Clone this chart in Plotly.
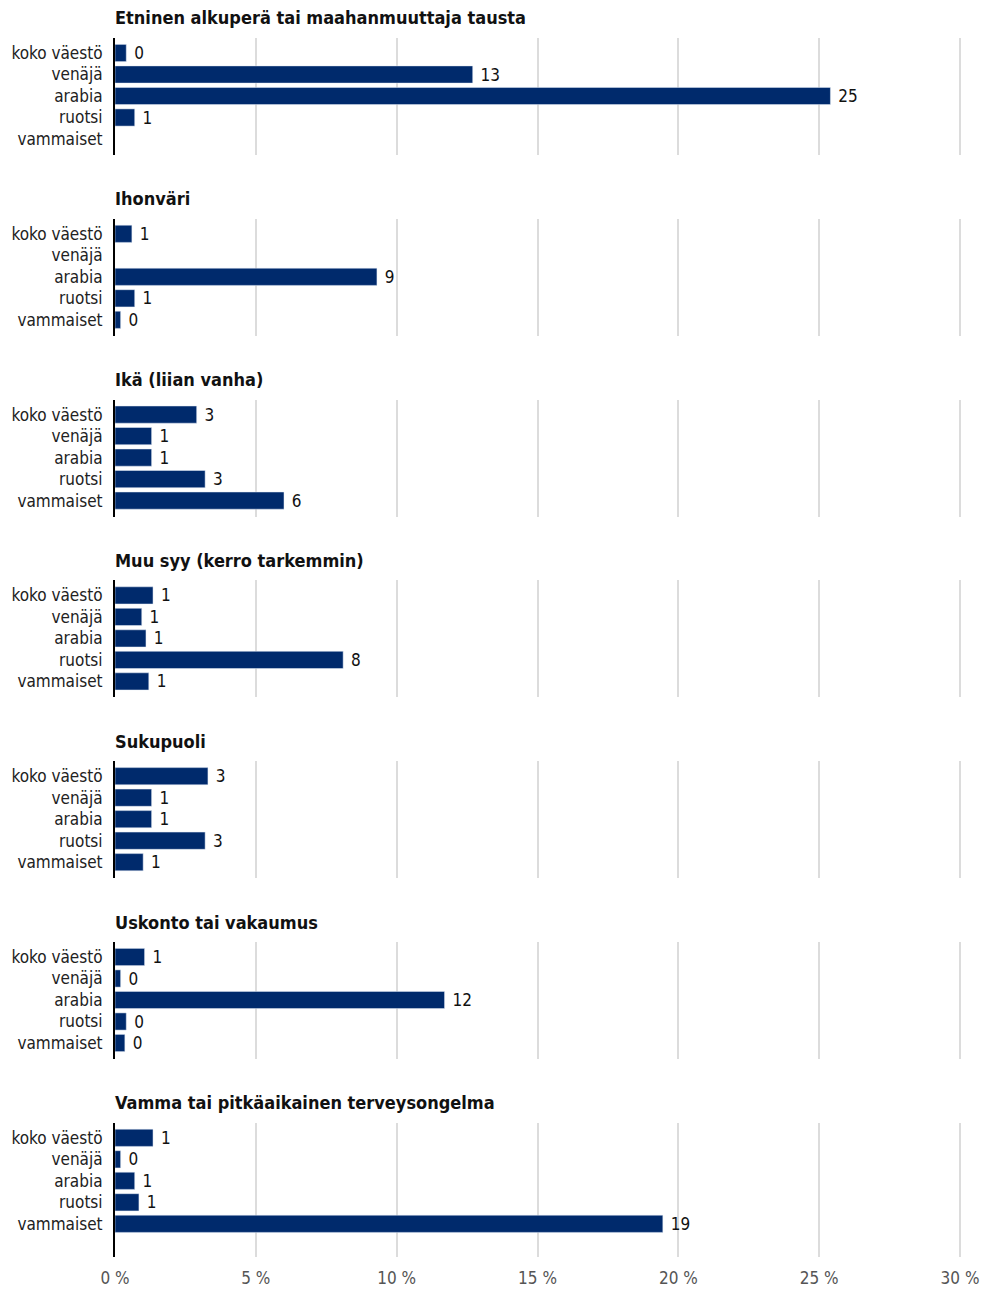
import plotly.graph_objects as go
from plotly.subplots import make_subplots

W, H = 983, 1290

groups = ["koko väestö", "venäjä", "arabia", "ruotsi", "vammaiset"]

titles = [
    "Etninen alkuperä tai maahanmuuttaja tausta",
    "Ihonväri",
    "Ikä (liian vanha)",
    "Muu syy (kerro tarkemmin)",
    "Sukupuoli",
    "Uskonto tai vakaumus",
    "Vamma tai pitkäaikainen terveysongelma",
]

etninen = [0.4, 12.7, 25.4, 0.7, None]
ihonvari = [0.6, None, 9.3, 0.7, 0.2]
ika = [2.9, 1.3, 1.3, 3.2, 6.0]
muu_syy = [1.35, 0.95, 1.1, 8.1, 1.2]
sukupuoli = [3.3, 1.3, 1.3, 3.2, 1.0]
uskonto = [1.05, 0.2, 11.7, 0.4, 0.35]
vamma = [1.35, 0.2, 0.7, 0.85, 19.45]

series = [etninen, ihonvari, ika, muu_syy, sukupuoli, uskonto, vamma]

x_ticks = [0, 5, 10, 15, 20, 25, 30]
x_labels = [f"{t} %" for t in x_ticks]

BAR = "#002a6c"
FONT = "DejaVu Sans Condensed"

n = len(series)
fig = make_subplots(rows=n, cols=1)

step = 180.8
row_px = 21.5
left, right = 115, 20
px_per_pct = 845 / 30
x_max = (W - right - left) / px_per_pct

for i, vals in enumerate(series):
    r = i + 1
    top = 38 + step * i
    last = i == n - 1
    bottom = top + (134 if last else 117)
    fig.add_trace(go.Bar(
        x=vals, y=groups, orientation="h",
        marker_color=BAR, width=0.8,
        text=[None if v is None else f" {round(v)}" for v in vals],
        textposition="outside", cliponaxis=False, constraintext="none",
        textfont=dict(family=FONT, size=17, color="#111"),
        showlegend=False, hoverinfo="skip",
    ), row=r, col=1)

    ax = "" if i == 0 else str(r)
    lo = -15 / row_px
    hi = 4 + (bottom - top - 15 - 4 * row_px) / row_px
    fig.layout["yaxis" + ax].update(
        domain=[1 - bottom / H, 1 - top / H], automargin=False,
        range=[hi, lo], categoryorder="array", categoryarray=groups,
        tickmode="array", tickvals=groups, ticktext=groups,
        showline=True, linecolor="black", linewidth=2,
        showgrid=False, ticks="", ticklabelstandoff=7,
        tickfont=dict(family=FONT, size=17, color="#222"),
    )
    fig.layout["xaxis" + ax].update(
        range=[0, x_max], tickvals=x_ticks, ticktext=x_labels, automargin=False,
        showgrid=True, gridcolor="#dcdcdc", gridwidth=2,
        zeroline=False, showticklabels=last, ticklabeloverflow="allow",
        ticks="outside" if last else "", ticklen=6, tickcolor="rgba(0,0,0,0)",
        tickfont=dict(family=FONT, size=17, color="#555"),
    )

    fig.add_annotation(
        text=f"<b>{titles[i]}</b>", x=0, xref="paper", xanchor="left", xshift=-2,
        y=1 - (18 + step * i) / H, yref="paper", yanchor="middle",
        showarrow=False, font=dict(family=FONT, size=18, color="#111"),
    )

fig.update_layout(
    width=W, height=H,
    margin=dict(l=left, r=right, t=0, b=0),
    plot_bgcolor="white", paper_bgcolor="white",
    bargap=0.2,
)

# drop the default 8px body margin so the figure fills the window exactly
fig.write_html("out.html", config={"displayModeBar": False},
               post_script="document.body.style.margin = '0';")
